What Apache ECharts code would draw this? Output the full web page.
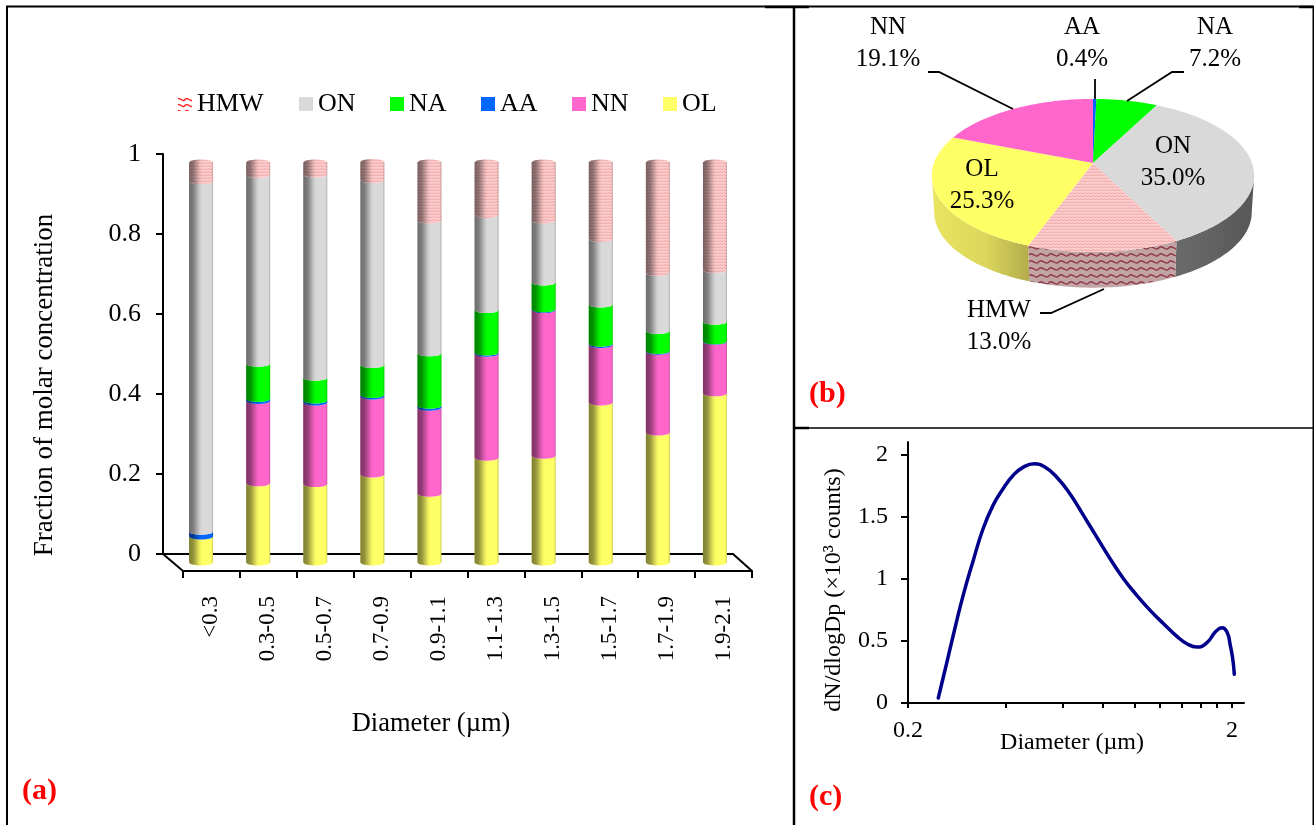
<!DOCTYPE html>
<html>
<head>
<meta charset="utf-8">
<style>html,body{margin:0;padding:0;background:#fff}#c{width:1314px;height:825px}</style>
<script src="https://cdn.jsdelivr.net/npm/echarts@6/dist/echarts.min.js"></script>
</head>
<body>
<div id="c"></div>
<script>
// ---------- data ----------
const sizeBins = ['<0.3','0.3-0.5','0.5-0.7','0.7-0.9','0.9-1.1','1.1-1.3','1.3-1.5','1.5-1.7','1.7-1.9','1.9-2.1'];
const OL  = [0.065,0.198,0.196,0.220,0.172,0.262,0.267,0.400,0.325,0.423];
const NN  = [0,    0.206,0.204,0.195,0.215,0.260,0.364,0.144,0.202,0.129];
const AA  = [0.012,0.005,0.005,0.004,0.005,0.003,0.002,0.003,0.002,0.001];
const NA  = [0,    0.088,0.057,0.075,0.131,0.106,0.067,0.098,0.050,0.049];
const ON  = [0.876,0.472,0.508,0.462,0.332,0.238,0.155,0.164,0.145,0.129];
const HMW = [0.047,0.031,0.030,0.045,0.145,0.131,0.145,0.191,0.276,0.269];
const valueTicks = [0,0.2,0.4,0.6,0.8,1];

const pieNames  = ['AA','NA','ON','HMW','OL','NN'];
const pieShares = [0.4,7.2,35.0,13.0,25.3,19.1];

const sizeDiameter = [0.248,0.263,0.279,0.296,0.318,0.341,0.366,0.393,0.422,0.454,0.491,0.529,0.575,0.632,0.696,0.765,0.841,0.925,1.017,1.118,1.230,1.352,1.451,1.559,1.674,1.776,1.863,1.930,1.976,2.010,2.033];
const sizeCounts   = [0.04,0.316,0.598,0.866,1.147,1.402,1.590,1.724,1.831,1.898,1.925,1.898,1.818,1.684,1.509,1.335,1.161,1.0,0.866,0.745,0.638,0.536,0.477,0.450,0.485,0.571,0.606,0.571,0.464,0.357,0.231];
const diameterTicks = [0.2,0.4,0.6,0.8,1.0,1.2,1.4,1.6,1.8,2.0];
const diameterLabels = [0.2,2];
const countTicks = [0,0.5,1,1.5,2];

// ---------- style ----------
const FONT = '"Liberation Serif","Times New Roman",serif';
const colors = {OL:'#ffff66',NN:'#ff66cc',AA:'#0066ff',NA:'#00ff00',ON:'#d9d9d9'};

function wave(w,h,bg,line,lw){
  const c=document.createElement('canvas');c.width=w;c.height=h;
  const g=c.getContext('2d');
  if(bg){g.fillStyle=bg;g.fillRect(0,0,w,h);}
  g.strokeStyle=line;g.lineWidth=lw;
  g.beginPath();g.moveTo(0,h*0.25);
  g.quadraticCurveTo(w*0.25,h*0.25,w*0.5,h*0.5);
  g.quadraticCurveTo(w*0.75,h*0.75,w,h*0.25);
  g.stroke();
  return {image:c,repeat:'repeat'};
}
const hatchBar  = wave(4,3,'#fbcfcf','#f2a6a6',1);
const hatchTop  = wave(4,3,'#fbd0d0','#f3a4a4',1);
const hatchSide = wave(10,7,'#c0a4a6','#8f3644',1.3);
const hatchIcon = wave(8,6,'#ffffff','#ff2020',1.5);
colors.HMW = hatchBar;

// ---------- panel (a) cylinders ----------
const HALF = 12, RY = 3;
function cylinderShade(){
  return new echarts.graphic.LinearGradient(0,0,1,0,[
    {offset:0,color:'rgba(0,0,0,0.5)'},{offset:0.18,color:'rgba(0,0,0,0.42)'},
    {offset:0.45,color:'rgba(0,0,0,0.06)'},{offset:0.55,color:'rgba(0,0,0,0)'},
    {offset:0.93,color:'rgba(0,0,0,0)'},{offset:1,color:'rgba(0,0,0,0.22)'}]);
}
function cylinderRender(fill,isTop){
  return function(params,api){
    const start=api.value(1), end=api.value(2);
    if(end-start<=0) return;
    const i=api.value(0);
    const pB=api.coord([i,start]), pT=api.coord([i,end]);
    const pts=[];
    for(let k=0;k<=16;k++){const t=-1+k/8;
      const d=RY*Math.sqrt(1-t*t);
      pts.push([pB[0]+t*HALF,pT[1]+(isTop?-d:d)]);}
    for(let k=16;k>=0;k--){const t=-1+k/8;
      pts.push([pB[0]+t*HALF,pB[1]+RY*Math.sqrt(1-t*t)]);}
    return {type:'group',children:[
      {type:'polygon',shape:{points:pts},style:{fill:fill,stroke:null}},
      {type:'polygon',shape:{points:pts},style:{fill:cylinderShade(),stroke:null}}
    ]};
  };
}
const stackOrder=[['OL',OL],['NN',NN],['AA',AA],['NA',NA],['ON',ON],['HMW',HMW]];
const running=sizeBins.map(()=>0);
const barSeries=stackOrder.map(([name,vals])=>{
  const rows=vals.map((v,i)=>{const s=running[i];running[i]=s+v;return [i,s,s+v];});
  return {type:'custom',name:name,xAxisIndex:1,yAxisIndex:1,silent:true,
    itemStyle:{color:colors[name]},
    encode:{x:0,y:[1,2]},
    renderItem:cylinderRender(colors[name],name==='HMW'),data:rows};
});

// ---------- panel (b) tilted pie ----------
const PIE={cx:1093,cy:163,r:159,persp:0.163,a:74.5,depth:37,shrink:0.985};
const pieLabelAt={NN:[888,43],AA:[1082,43],NA:[1215,43],ON:[1173,162],OL:[982,185],HMW:[999,326]};
function rim(deg,bottom){
  const th=deg*Math.PI/180,u=Math.sin(th),v=-Math.cos(th),q=1-PIE.persp*v;
  const s=bottom?PIE.shrink:1;
  return [PIE.cx+PIE.r*s*u/q,PIE.cy+PIE.a*s*v/q+(bottom?PIE.depth:0)];
}
function arc(a,b,bottom){const out=[];const n=Math.max(2,Math.ceil(Math.abs(b-a)));
  for(let k=0;k<=n;k++)out.push(rim(a+(b-a)*k/n,bottom));return out;}
const pieTop={ON:colors.ON,HMW:hatchTop,OL:colors.OL,NN:colors.NN,AA:colors.AA,NA:colors.NA};
function sideFill(name){
  if(name==='ON')return new echarts.graphic.LinearGradient(0,0,1,0,[{offset:0,color:'#6b6b6b'},{offset:1,color:'#575757'}]);
  if(name==='OL')return new echarts.graphic.LinearGradient(0,0,1,0,[{offset:0,color:'#e9e560'},{offset:0.55,color:'#dcd65c'},{offset:1,color:'#b4ac4c'}]);
  return hatchSide;
}
function pieRender(params,api){
  const idx=params.dataIndex,name=pieNames[idx];
  const total=pieShares.reduce((a,b)=>a+b,0);
  let before=0;for(let k=0;k<idx;k++)before+=pieShares[k];
  const a0=before/total*360,a1=(before+api.value(0))/total*360;
  const kids=[{type:'polygon',z2:3,shape:{points:[[PIE.cx,PIE.cy]].concat(arc(a0,a1,false))},style:{fill:pieTop[name],stroke:null}}];
  const s0=Math.max(a0,99.4),s1=Math.min(a1,260.6);
  if(s1>s0){
    kids.push({type:'polygon',z2:1,shape:{points:arc(s0,s1,false).concat(arc(s1,s0,true))},style:{fill:sideFill(name),stroke:null}});
  }
  const at=pieLabelAt[name];
  kids.push({type:'text',z2:5,style:{x:at[0],y:at[1],text:name+'\n'+api.value(0).toFixed(1)+'%',
    font:'25px '+FONT,fill:'#000',align:'center',verticalAlign:'middle',lineHeight:32,textAlign:'center',textVerticalAlign:'middle'}});
  return {type:'group',children:kids};
}

// ---------- helpers ----------
function polyline(points,w){return {type:'polyline',silent:true,z:20,shape:{points:points},style:{stroke:'#000',lineWidth:w||1.8,fill:null}};}
function txt(s,x,y,size,rot,extra){
  return Object.assign({type:'text',silent:true,z:20,x:x,y:y,rotation:rot||0,
    style:Object.assign({text:s,font:size+'px '+FONT,fill:'#000',textAlign:'center',textVerticalAlign:'middle'},extra||{})},{});
}
function panelTag(s,x,y){return txt(s,x,y,30,0,{font:'bold 30px '+FONT,fill:'#ff0000',textAlign:'left'});}

const legendAt=[['HMW',178],['ON',299],['NA',390],['AA',481],['NN',572],['OL',663]];

const axisText={fontFamily:FONT,color:'#000'};
const blackLine=w=>({show:true,lineStyle:{color:'#000',width:w}});

const option={
  animation:false,
  backgroundColor:'#fff',
  legend:legendAt.map(([name,x])=>({
    left:x,top:91,icon:'rect',itemWidth:14,itemHeight:14,itemGap:0,selectedMode:false,padding:0,
    textStyle:{fontFamily:FONT,fontSize:26,color:'#000',padding:[0,0,0,0]},
    data:[name==='HMW'?{name:name,icon:'rect',itemStyle:{color:hatchIcon}}:{name:name,icon:'rect'}]
  })),
  grid:[
    {left:163,top:154,width:570,height:400},
    {left:172.5,top:162.5,width:571,height:400},
    {left:183,top:171,width:569,height:400},
    {left:908,top:442,width:336,height:261}
  ],
  xAxis:[
    {gridIndex:0,type:'category',data:sizeBins,axisLine:blackLine(2),axisTick:{show:false},axisLabel:{show:false}},
    {gridIndex:1,type:'category',data:sizeBins,show:false},
    {gridIndex:2,type:'category',data:sizeBins,axisLine:blackLine(2),
      axisTick:{show:true,length:7,lineStyle:{color:'#000',width:2},alignWithLabel:false},
      axisLabel:{rotate:90,interval:0,margin:25,fontSize:23,hideOverlap:false,...axisText}},
    {gridIndex:3,type:'log',logBase:10,min:0.2,max:2.178,axisLine:blackLine(2),splitLine:{show:false},minorTick:{show:false},
      axisTick:{show:true,length:5,inside:false,customValues:diameterTicks,lineStyle:{color:'#000',width:2}},
      axisLabel:{customValues:diameterLabels,margin:16,fontSize:24,showMinLabel:true,showMaxLabel:true,formatter:v=>String(+(+v).toFixed(1)),...axisText}}
  ],
  yAxis:[
    {gridIndex:0,type:'value',min:0,max:1,interval:0.2,axisLine:blackLine(2),splitLine:{show:false},
      axisTick:{show:true,length:7,lineStyle:{color:'#000',width:2}},
      axisLabel:{margin:22,fontSize:26,customValues:valueTicks,...axisText}},
    {gridIndex:1,type:'value',min:0,max:1,show:false},
    {gridIndex:2,type:'value',min:0,max:1,show:false},
    {gridIndex:3,type:'value',min:0,max:2.1,interval:0.5,axisLine:blackLine(2),splitLine:{show:false},
      axisTick:{show:true,length:7,customValues:countTicks,lineStyle:{color:'#000',width:2}},
      axisLabel:{margin:20,fontSize:24,customValues:countTicks,...axisText}}
  ],
  series:barSeries.concat([
    {type:'custom',name:'Composition',coordinateSystem:'none',silent:true,renderItem:pieRender,
      data:pieShares.map(v=>[v]),encode:{value:0}},
    {type:'line',name:'Size distribution',xAxisIndex:3,yAxisIndex:3,silent:true,smooth:0.5,showSymbol:false,
      lineStyle:{color:'#00008b',width:3.5,cap:'round'},
      data:sizeDiameter.map((d,i)=>[d,sizeCounts[i]])}
  ]),
  graphic:{elements:[
    // panel frame
    polyline([[7,825],[7,6.5],[1313.5,6.5],[1313.5,825]],2),
    polyline([[794,6],[794,825]],2.5),
    polyline([[794,428],[1313,428]],1.5),
    polyline([[765,7],[809,7]],2.5),
    polyline([[794,428],[809,428]],2.5),
    polyline([[1299,7],[1313,7]],2.5),
    // floor of the 3-D box
    polyline([[163,554],[183,571]],2),
    polyline([[733,554],[752,571]],2),
    // pie leader lines
    polyline([[928,72],[939,72],[1013,109]]),
    polyline([[1095,79],[1095,99]]),
    polyline([[1184,72],[1172,72],[1127,101]]),
    polyline([[1040,313],[1051,313],[1104,289]]),
    // axis titles
    txt('Fraction of molar concentration',45,385,27,Math.PI/2),
    txt('Diameter (µm)',431,724,26.5),
    txt('dN/dlogDp (×10³ counts)',834,590,24,Math.PI/2),
    txt('Diameter (µm)',1072,743,24),
    panelTag('(a)',22,791),
    panelTag('(b)',809,394),
    panelTag('(c)',809,797)
  ]}
};
const chart=echarts.init(document.getElementById('c'),null,{renderer:'canvas',width:1314,height:825});
chart.setOption(option);
</script>
</body>
</html>
